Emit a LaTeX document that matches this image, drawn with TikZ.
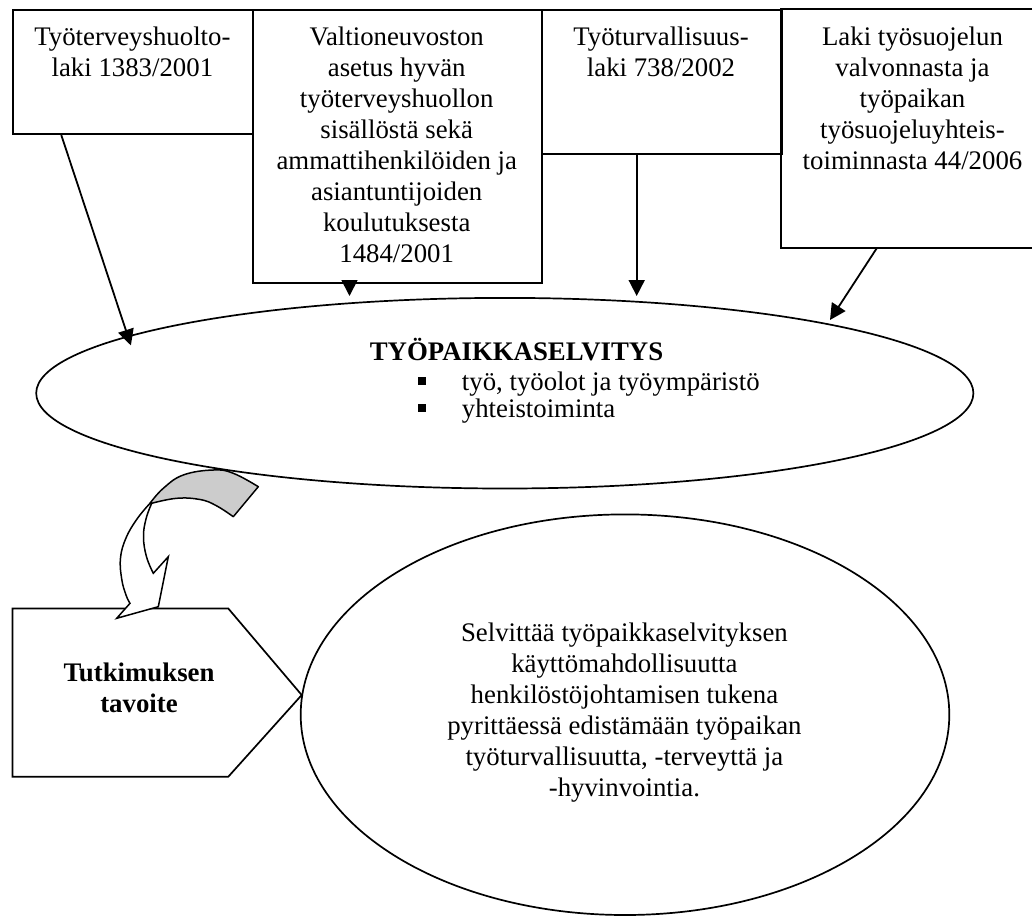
\documentclass[tikz,border=0pt]{standalone}
\usepackage{fontspec}
\setmainfont{Liberation Serif}
\usetikzlibrary{arrows.meta,shapes.geometric,calc}
\definecolor{argray}{RGB}{204,204,204}
\begin{document}
\begin{tikzpicture}[x=1pt,y=-1pt,
  lawbox/.style={draw, line width=1.8pt, inner sep=0pt, anchor=north west},
  openbox/.style={inner sep=0pt, outer sep=0pt, anchor=north west},
  boxline/.style={line width=1.8pt},
  txt/.style={inner sep=0pt, align=center, font=\fontsize{26.8}{31}\selectfont},
  btxt/.style={inner sep=0pt, align=center, font=\fontsize{26.8}{31}\selectfont\bfseries},
  conn/.style={line width=1.8pt, -{Triangle[length=16pt,width=16pt]}},
  oval/.style={draw, ellipse, line width=1.7pt, inner sep=0pt},
  bulletsq/.style={fill=black, inner sep=0pt, minimum size=8pt}]
\useasboundingbox (0,0) rectangle (1035,918);

% law boxes
\node[lawbox, minimum width=240pt, minimum height=124pt] (b1) at (12.4,9.3) {};
\node[lawbox, minimum width=288.6pt, minimum height=273.1pt] (b2) at (252.4,9.3) {};
\node[lawbox, minimum width=239.7pt, minimum height=144pt] (b3) at (541,9.3) {};
\node[openbox, minimum width=251.3pt, minimum height=239pt] (b4) at (780.7,9.3) {};
\draw[boxline] (b4.north east) -- (b4.north west) -- (b4.south west) -- (b4.south east);

\node[txt, anchor=north] (t1) at (132.4,23.8) {\strut Työterveyshuolto-\\laki 1383/2001};
\node[txt, anchor=north] (t2) at (396.7,23.8) {\strut Valtioneuvoston\\asetus hyvän\\työterveyshuollon\\sisällöstä sekä\\ammattihenkilöiden ja\\asiantuntijoiden\\koulutuksesta\\1484/2001};
\node[txt, anchor=north] (t3) at (661,23.8) {\strut Työturvallisuus-\\laki 738/2002};
\node[txt, anchor=north] (t4) at (912.5,23.8) {\strut Laki työsuojelun\\valvonnasta ja\\työpaikan\\työsuojeluyhteis-\\toiminnasta 44/2006};

% main ellipse
\node[oval, minimum width=937.2pt, minimum height=190.6pt] (e1) at (504.8,393.2) {};
\node[btxt, anchor=base] (th) at (516.5,360) {TYÖPAIKKASELVITYS};
\node[bulletsq] (bl1) at (422,381) {};
\node[bulletsq] (bl2) at (422,407.5) {};
\node[txt, anchor=base west] (li1) at (461.7,390) {työ, työolot ja työympäristö};
\node[txt, anchor=base west] (li2) at (461.7,417) {yhteistoiminta};

% arrow end points on the ellipse
\coordinate (p1) at (130.9,345.4);
\coordinate (p2) at (349.5,296);
\coordinate (p3) at (636.7,296);
\coordinate (p4) at (830,320);
\coordinate (s1) at ($(b1.south west)+(48.9,0)$);
\coordinate (s2) at (b2.south -| p2);
\coordinate (s3) at (b3.south -| p3);
\coordinate (s4) at ($(b4.south west)+(96,0)$);
\draw[conn] (s1) -- (p1);
\draw[conn] (s2) -- (p2);
\draw[conn] (s3) -- (p3);
\draw[conn] (s4) -- (p4);

% goal pentagon
\draw[line width=1.7pt, line join=miter] (12.4,608.5) -- (228.3,608.5) -- (301.7,695) -- (228.3,776.7) -- (12.4,776.7) -- cycle;
\node[btxt, anchor=north] (tg) at (139,660) {\strut Tutkimuksen\\tavoite};

% goal ellipse
\node[oval, minimum width=648.6pt, minimum height=400.6pt] (e2) at (625,714.7) {};
\node[txt, anchor=north] (t6) at (624.4,619.3) {\strut Selvittää työpaikkaselvityksen\\käyttömahdollisuutta\\henkilöstöjohtamisen tukena\\pyrittäessä edistämään työpaikan\\työturvallisuutta, -terveyttä ja\\-hyvinvointia.};

% curved arrow: grey back band
\filldraw[fill=argray, line width=1.5pt, line join=round]
  plot[smooth, tension=0.7] coordinates {(258.3,486.7) (233.3,473.3) (213.3,470) (183.3,475) (163.3,488.3) (150,503.3)}
  -- plot[smooth, tension=0.7] coordinates {(151.7,503.3) (176.7,498.3) (200,499.5) (216,505.5) (233.3,516.7)}
  -- cycle;
% curved arrow: white front band with head
\filldraw[fill=white, line width=1.5pt, line join=miter]
  plot[smooth, tension=0.7] coordinates {(150,503.3) (137,519) (126,538) (120.5,558) (121.7,579) (126,595) (130,603.3)}
  -- (116.7,618.3) -- (158.3,606.7) -- (168.3,556.7)
  -- plot[smooth, tension=0.7] coordinates {(153.3,573.3) (146.5,556.7) (143.5,537) (146,519) (151.7,503.3)}
  -- cycle;
\end{tikzpicture}
\end{document}
